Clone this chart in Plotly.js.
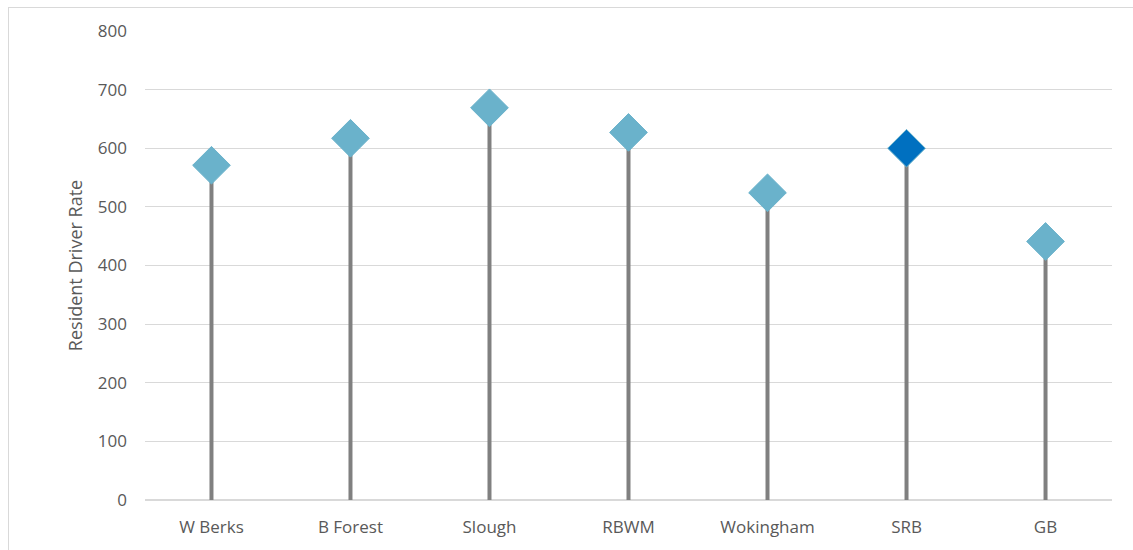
<!DOCTYPE html>
<html>
<head>
<meta charset="utf-8">
<script src="https://cdn.plot.ly/plotly-3.0.1.min.js"></script>
<style>
html,body{margin:0;padding:0;background:#fff;}
#wrap{position:relative;width:1133px;height:550px;overflow:hidden;}
#chart{width:1133px;height:550px;}
#frame{position:absolute;left:8px;top:7px;width:1140px;height:560px;border:1px solid #d9d9d9;pointer-events:none;}
</style>
</head>
<body>
<div id="wrap"><div id="chart"></div><div id="frame"></div></div>
<script>
const categories = ["W Berks", "B Forest", "Slough", "RBWM", "Wokingham", "SRB", "GB"];
const rates = [571, 617, 669, 627, 524, 600, 441];
const highlight = "SRB";
const yTicks = [0, 100, 200, 300, 400, 500, 600, 700, 800];

const markerColors = categories.map(c => c === highlight ? "#0070c0" : "#6ab2cb");
const markerLine = categories.map(() => "#6ab2cb");

const stems = {
  type: "scatter", mode: "none",
  x: categories, y: rates,
  error_y: {type: "data", symmetric: false, array: rates.map(() => 0), arrayminus: rates,
    color: "#808080", thickness: 4, width: 0},
  hoverinfo: "skip", showlegend: false
};
const heads = {
  type: "scatter", mode: "markers",
  x: categories, y: rates,
  marker: {symbol: "diamond", size: 29, color: markerColors, line: {color: markerLine, width: 1}},
  showlegend: false
};

const layout = {
  width: 1133, height: 550,
  margin: {l: 145, r: 21, t: 31, b: 50},
  paper_bgcolor: "#fff", plot_bgcolor: "#fff",
  font: {family: "Open Sans, Noto Sans, sans-serif", size: 17, color: "#595959"},
  xaxis: {type: "category", categoryarray: categories, showgrid: false, zeroline: false,
    showline: false, ticks: "", tickfont: {size: 17, color: "#595959"}, ticklabelstandoff: 15, fixedrange: true},
  yaxis: {range: [0, 800], tickvals: yTicks, ticktext: yTicks.map(String), showgrid: true,
    gridcolor: "#d9d9d9", gridwidth: 1, zeroline: true, zerolinecolor: "#d9d9d9", zerolinewidth: 2,
    showline: false, ticks: "", ticklen: 0, tickfont: {size: 17, color: "#595959"}, ticklabelstandoff: 17,
    title: {text: "Resident Driver Rate", font: {size: 18, color: "#595959"}, standoff: 10}},
};
Plotly.newPlot("chart", [stems, heads], layout, {displayModeBar: false, staticPlot: true});
</script>
</body>
</html>
